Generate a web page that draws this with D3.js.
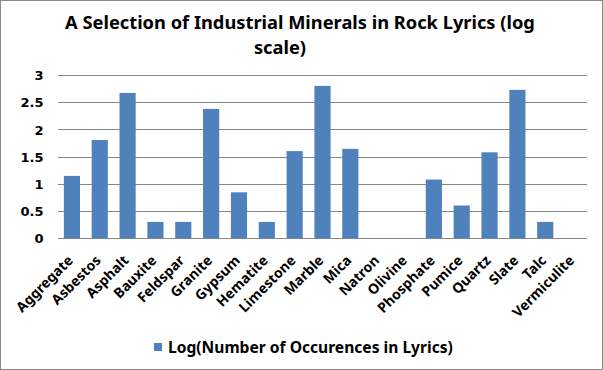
<!DOCTYPE html>
<html><head><meta charset="utf-8">
<script src="https://cdn.jsdelivr.net/npm/d3@7"></script>
<style>body{margin:0;background:#fff}svg{display:block}text{fill:#000}</style>
</head><body>
<svg id="c" width="603" height="370"></svg>
<script>
const categories = ["Aggregate","Asbestos","Asphalt","Bauxite","Feldspar","Granite","Gypsum","Hematite","Limestone","Marble","Mica","Natron","Olivine","Phosphate","Pumice","Quartz","Slate","Talc","Vermiculite"];
const values = [1.146,1.806,2.67,0.301,0.301,2.377,0.845,0.301,1.602,2.80,1.643,0,0,1.079,0.602,1.58,2.727,0.301,0];
const yTicks = [0,0.5,1,1.5,2,2.5,3];
const titleLines = ["A Selection of Industrial Minerals in Rock Lyrics (log","scale)"];
const seriesName = "Log(Number of Occurences in Lyrics)";

(function(){
const svg = d3.select("#c");
const ff = '"Noto Sans","Liberation Sans",sans-serif';
svg.append("rect").attr("x",0.5).attr("y",0.5).attr("width",602).attr("height",369)
  .attr("fill","#fff").attr("stroke","#898989").attr("stroke-width",1);

const pLeft=58, pRight=587, pTop=75, pBottom=238.3;
const x = d3.scaleBand().domain(categories).range([pLeft,pRight]).paddingInner(0.42).paddingOuter(0.21);
const y = d3.scaleLinear().domain([0,3]).range([pBottom,pTop]);

svg.append("g").selectAll("line").data(yTicks).join("line")
  .attr("x1",pLeft).attr("x2",pRight).attr("y1",d=>Math.round(y(d))+0.5).attr("y2",d=>Math.round(y(d))+0.5)
  .attr("stroke","#878787").attr("stroke-width",1);

svg.append("g").selectAll("rect").data(values).join("rect")
  .attr("x",(d,i)=>x(categories[i])).attr("width",x.bandwidth())
  .attr("y",d=>y(d)).attr("height",d=>y(0)-y(d)).attr("fill","#4F81BD");

const yAxis = d3.axisLeft(y).tickValues(yTicks).tickSize(0).tickPadding(0).tickFormat(d3.format("~g"));
const ya = svg.append("g").attr("transform","translate(43.5,0)").call(yAxis);
ya.select(".domain").remove();
ya.attr("font-family",null).attr("font-size",null);
ya.selectAll("text").attr("font-size",13).attr("font-weight","bold").attr("fill","#000")
  .style("font-family",'"DejaVu Sans",sans-serif').attr("dy","0.36em");

const xAxis = d3.axisBottom(x).tickSize(0).tickPadding(0);
const xa = svg.append("g").attr("transform",`translate(0,${pBottom})`).call(xAxis);
xa.select(".domain").remove();
xa.attr("font-family",null).attr("font-size",null);
xa.selectAll("text").attr("font-size",14).attr("font-weight","bold").attr("fill","#000").style("font-family",ff)
  .attr("text-anchor","end").attr("dy",0).attr("y",0)
  .attr("transform","translate(2,23) rotate(-45)");

const title = svg.append("g");
const centers=[300,280];
titleLines.forEach((t,i)=>{
  title.append("text").attr("text-anchor","middle").attr("x",centers[i]).attr("y",29+i*25)
    .attr("font-size",19).attr("font-weight","bold").style("font-family",ff).text(t);
});
const tt = title.selectAll("text");
const w1 = tt.nodes()[0].getComputedTextLength();
tt.attr("font-size", 19*470/w1);

const lg = svg.append("g");
lg.append("rect").attr("x",154).attr("y",343).attr("width",8).attr("height",8).attr("fill","#4F81BD");
const lt = lg.append("text").attr("x",168).attr("y",353).attr("font-size",14).attr("font-weight","bold").style("font-family",ff).text(seriesName);
const w2 = lt.node().getComputedTextLength();
lt.attr("font-size", 14*285/w2);
})();
</script>
</body></html>
